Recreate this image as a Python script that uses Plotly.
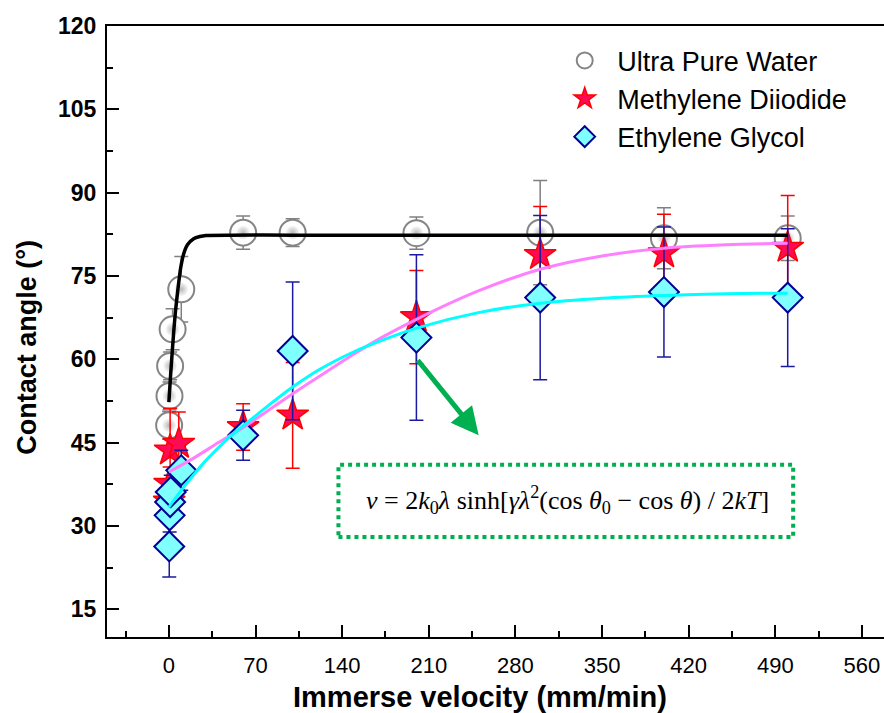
import plotly.graph_objects as go

# ---------------- data ----------------
water_x = [0.2, 0.5, 1, 3, 10, 60, 100, 200, 300, 400, 500]
water_y = [48.1, 53.4, 58.8, 65.4, 72.6, 82.8, 82.8, 82.7, 82.8, 81.8, 81.8]
water_err = [2.5, 2.5, 2.5, 3.7, 5.9, 3.0, 2.5, 2.9, 9.4, 5.5, 4.0]

md_x = [0.3, 0.6, 1, 8, 60, 100, 200, 300, 400, 500]
md_y = [34.4, 37.6, 43.6, 44.8, 47.8, 49.9, 67.6, 78.8, 79.1, 80.1]
md_err = [3.0, 3.0, 7.6, 5.7, 4.2, 9.5, 8.4, 8.7, 7.0, 9.4]

eg_x = [0.3, 0.6, 1, 1.5, 10, 60, 100, 200, 300, 400, 500]
eg_y = [26.3, 31.9, 34.3, 36.1, 40.0, 46.3, 61.5, 63.9, 71.1, 72.1, 71.1]
eg_err = [5.5, 3.0, 3.0, 3.0, 3.6, 4.5, 12.4, 14.9, 14.8, 11.7, 12.4]

# fitted curves
water_fit_x = [0, 1.35, 2.7, 4, 5.4, 7.4, 9.4, 12, 15, 20, 25, 30, 50, 100, 200, 300, 400, 500]
water_fit_y = [52.3, 57.0, 61.3, 65.2, 68.8, 72.8, 76.3, 79.0, 80.6, 81.7, 82.1, 82.3, 82.35, 82.35, 82.35, 82.35, 82.35, 82.35]

md_fit_x = [0, 20, 40, 60, 100, 122, 150, 171, 200, 250, 300, 350, 400, 450, 500]
md_fit_y = [39.7, 42.2, 45.0, 47.7, 53.8, 57.0, 61.0, 63.8, 67.2, 72.3, 76.2, 78.6, 80.0, 80.6, 80.9]

eg_fit_x = [0, 10, 20, 30, 42, 50, 60, 80, 100, 122, 150, 171, 200, 250, 300, 350, 400, 450, 500]
eg_fit_y = [33.4, 36.4, 39.2, 41.8, 44.5, 46.2, 48.0, 51.6, 55.0, 58.2, 61.4, 63.3, 65.6, 68.4, 70.1, 71.0, 71.5, 71.8, 71.9]

x_ticks = [0, 70, 140, 210, 280, 350, 420, 490, 560]
y_ticks = [15, 30, 45, 60, 75, 90, 105, 120]

names = ["Ultra Pure Water", "Methylene Diiodide", "Ethylene Glycol"]

# ---------------- figure ----------------
fig = go.Figure()

fig.add_trace(go.Scatter(
    x=water_x, y=water_y, mode="markers", name=names[0], legendgroup="a",
    error_y=dict(type="data", array=water_err, color="#808080", thickness=1.5, width=7),
    marker=dict(symbol="circle", size=26, color="white",
                line=dict(color="#858585", width=2)),
))
# inner sphere highlight of the water markers
fig.add_trace(go.Scatter(
    x=water_x, y=water_y, mode="markers", showlegend=False, hoverinfo="skip",
    marker=dict(symbol="circle", size=14, color="#fafafa",
                gradient=dict(type="radial", color="#b8b8b8"),
                line=dict(width=0)),
))
fig.add_trace(go.Scatter(
    x=md_x, y=md_y, mode="markers", name=names[1], legendgroup="b",
    error_y=dict(type="data", array=md_err, color="#FF0000", thickness=1.5, width=7),
    marker=dict(symbol="star", size=24, color="#FF0A55",
                line=dict(color="#FF0000", width=1.5)),
))
fig.add_trace(go.Scatter(
    x=eg_x, y=eg_y, mode="markers", name=names[2], legendgroup="c",
    error_y=dict(type="data", array=eg_err, color="#1a1aa0", thickness=1.5, width=7),
    marker=dict(symbol="diamond", size=23, color="#80FFFF",
                line=dict(color="#000099", width=2)),
))

fig.add_trace(go.Scatter(x=water_fit_x, y=water_fit_y, mode="lines", showlegend=False,
                         line=dict(color="black", width=3.5, shape="spline", smoothing=0.6)))
fig.add_trace(go.Scatter(x=md_fit_x, y=md_fit_y, mode="lines", showlegend=False,
                         line=dict(color="#FF80FF", width=3, shape="spline", smoothing=0.8)))
fig.add_trace(go.Scatter(x=eg_fit_x, y=eg_fit_y, mode="lines", showlegend=False,
                         line=dict(color="#00FFFF", width=3, shape="spline", smoothing=0.8)))

# formula box and arrow
fig.add_shape(type="rect", xref="x", yref="y", x0=137, x1=504.4, y0=28.0, y1=41.0,
              line=dict(color="#00B050", width=4, dash="dot"), fillcolor="rgba(0,0,0,0)")
fig.add_annotation(
    x=322.4, y=34.6, xref="x", yref="y", showarrow=False,
    text="<i>v</i> = 2<i>k</i><sub>0</sub><i>λ</i> sinh[<i>γλ</i><sup>2</sup>(cos <i>θ</i><sub>0</sub> − cos <i>θ</i>) / 2<i>kT</i>]",
    font=dict(family="Liberation Serif, Times New Roman, serif", size=26, color="black"),
)
fig.add_annotation(
    x=250.3, y=46.3, ax=200.1, ay=60.1, xref="x", yref="y", axref="x", ayref="y",
    text="", showarrow=True, arrowhead=2, arrowsize=1.1, arrowwidth=5, arrowcolor="#00B050",
)

axis_font = "Arial, Liberation Sans, sans-serif"

# axis titles (placed as annotations to match the reference offsets)
fig.add_annotation(
    x=0.48, y=-0.0985, xref="paper", yref="paper", showarrow=False,
    xanchor="center", yanchor="middle",
    text="<b>Immerse velocity (mm/min)</b>",
    font=dict(family=axis_font, size=29, color="black"),
)
fig.add_annotation(
    x=-0.1025, y=0.474, xref="paper", yref="paper", showarrow=False,
    xanchor="center", yanchor="middle", textangle=-90,
    text="<b>Contact angle (°)</b>",
    font=dict(family=axis_font, size=27, color="black"),
)

fig.update_layout(
    width=884, height=713,
    margin=dict(l=107, r=0, t=26, b=76),
    plot_bgcolor="white", paper_bgcolor="white",
    showlegend=True,
    legend=dict(x=0.573, y=0.983, xanchor="left", yanchor="top",
                font=dict(family=axis_font, size=27, color="black"),
                bgcolor="rgba(0,0,0,0)", traceorder="grouped", tracegroupgap=0,
                itemwidth=55),
    xaxis=dict(range=[-50, 577.8], tickvals=x_ticks, ticktext=[str(v) for v in x_ticks],
               ticks="inside", ticklen=12, tickwidth=2, tickcolor="black",
               minor=dict(dtick=35, tick0=0, ticks="inside", ticklen=6, tickwidth=2, tickcolor="black"),
               showline=True, linecolor="black", linewidth=2, mirror=True,
               showgrid=False, zeroline=False, ticklabelstandoff=8,
               tickfont=dict(family=axis_font, size=22, color="black")),
    yaxis=dict(range=[10, 120], tickvals=y_ticks, ticktext=[f"<b>{v}</b>" for v in y_ticks],
               ticks="inside", ticklen=12, tickwidth=2, tickcolor="black",
               minor=dict(dtick=7.5, tick0=0, ticks="inside", ticklen=6, tickwidth=2, tickcolor="black"),
               showline=True, linecolor="black", linewidth=2, mirror=False,
               showgrid=False, zeroline=False, ticklabelstandoff=4,
               tickfont=dict(family=axis_font, size=23, color="black")),
)

fig.write_html("out.html")
